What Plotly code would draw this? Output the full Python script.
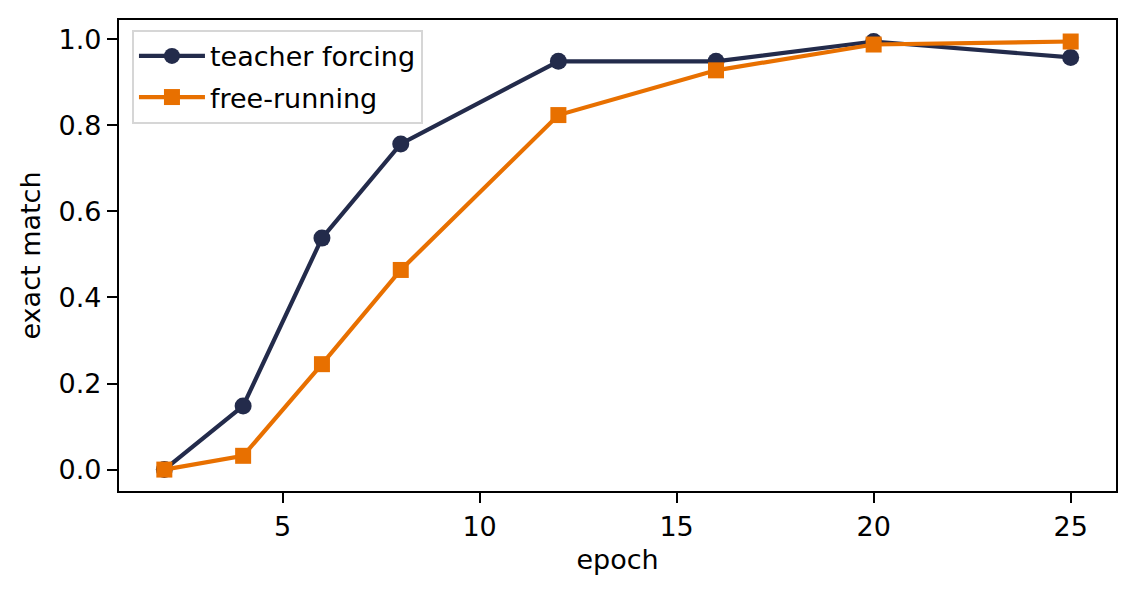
import plotly.graph_objects as go

# values
epochs = [2, 4, 6, 8, 12, 16, 20, 25]
teacher_forcing = [0.0, 0.148, 0.538, 0.757, 0.949, 0.949, 0.995, 0.958]
free_running = [0.0, 0.032, 0.245, 0.464, 0.824, 0.928, 0.988, 0.995]

x_ticks = [5, 10, 15, 20, 25]
y_ticks = [0.0, 0.2, 0.4, 0.6, 0.8, 1.0]

navy = '#232b4b'
orange = '#e87000'

fig = go.Figure()
fig.add_trace(go.Scatter(
    x=epochs, y=teacher_forcing, name='teacher forcing',
    mode='lines+markers', legendgroup='tf',
    line=dict(color=navy, width=4.2),
    marker=dict(symbol='circle', size=17, color=navy),
))
fig.add_trace(go.Scatter(
    x=epochs, y=free_running, name='free-running',
    mode='lines+markers', legendgroup='fr',
    line=dict(color=orange, width=4.2),
    marker=dict(symbol='square', size=16, color=orange),
))

axis_common = dict(
    showgrid=False, zeroline=False,
    showline=True, linecolor='black', linewidth=2.2, mirror=True,
    ticks='outside', ticklen=10, tickwidth=2.2, tickcolor='black',
    tickfont=dict(size=27, color='black'),
)

# page has ~8px body margin, so the margins are shifted to compensate
fig.update_layout(
    width=1134, height=594,
    margin=dict(l=111, r=26, t=10, b=111),
    plot_bgcolor='white', paper_bgcolor='white',
    font=dict(family='DejaVu Sans', color='black'),
    showlegend=True,
    legend=dict(
        x=0.013, y=0.979, xanchor='left', yanchor='top',
        bgcolor='rgba(255,255,255,0.8)', bordercolor='#d6d6d6', borderwidth=2,
        font=dict(size=27), itemwidth=66, tracegroupgap=3,
    ),
    xaxis=dict(
        range=[0.85, 26.15], tickvals=x_ticks,
        title=dict(text='epoch', font=dict(size=27), standoff=10),
        **axis_common,
    ),
    yaxis=dict(
        range=[-0.0498, 1.045], tickvals=y_ticks, tickformat='.1f',
        title=dict(text='exact match', font=dict(size=27), standoff=10),
        **axis_common,
    ),
)

fig.write_html("out.html")
